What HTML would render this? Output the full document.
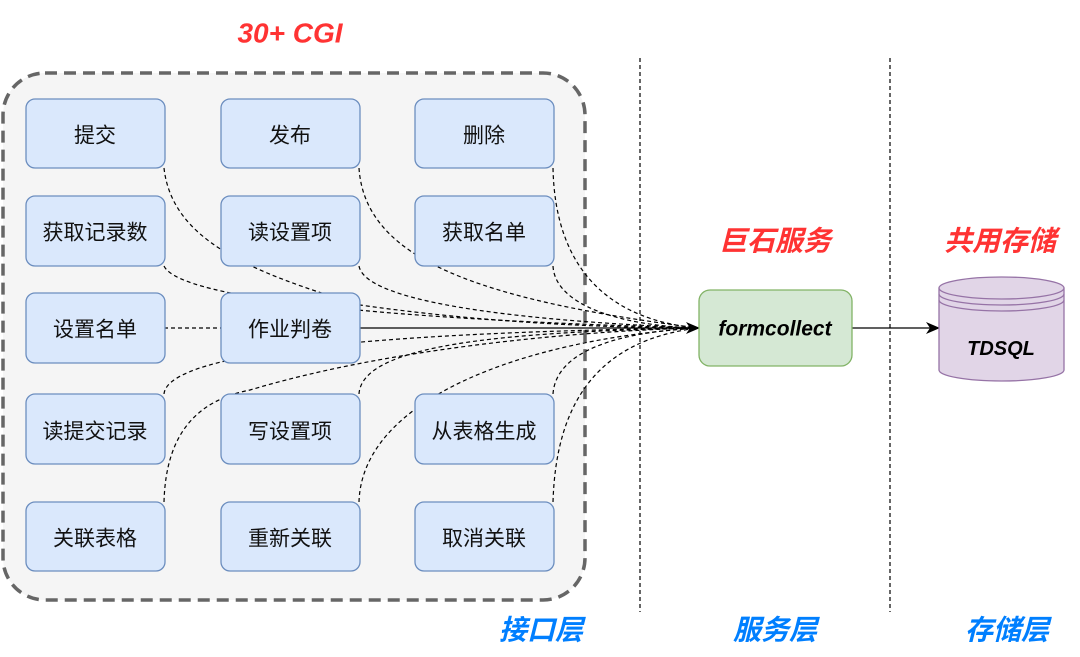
<!DOCTYPE html>
<html><head><meta charset="utf-8"><style>
html,body{margin:0;padding:0;background:#fff;}
svg{display:block;}
.b{fill:#dae8fc;stroke:#6c8ebf;stroke-width:1.3;}
.t{font-family:"Liberation Sans","Noto Sans CJK SC",sans-serif;font-size:21px;fill:#111;text-anchor:middle;dominant-baseline:central;}
.c{fill:none;stroke:#000;stroke-width:1.2;stroke-dasharray:4 3;}
.h{font-family:"Liberation Sans","Noto Sans CJK SC",sans-serif;font-weight:bold;font-style:italic;font-size:28px;text-anchor:middle;dominant-baseline:central;}
</style></head><body>
<svg width="1080" height="657" viewBox="0 0 1080 657">
<defs><marker id="a" markerWidth="14" markerHeight="12" refX="13" refY="6" orient="auto" markerUnits="userSpaceOnUse"><path d="M0,0 L14,6 L0,12 L4,6 Z" fill="#000"/></marker></defs>
<rect x="3" y="73" width="582" height="527" rx="42" fill="#f5f5f5" stroke="#666" stroke-width="3.5" stroke-dasharray="12 7"/>
<line x1="640" y1="58" x2="640" y2="612" stroke="#000" stroke-width="1.2" stroke-dasharray="4 3"/>
<line x1="890" y1="58" x2="890" y2="612" stroke="#000" stroke-width="1.2" stroke-dasharray="4 3"/>
<g class="c">
<path d="M164,168 C172,240 250,272 360,305 C480,322 600,328 698,328"/>
<path d="M164,266 C180,300 400,320 698,328"/>
<path d="M359,168 C365,260 480,300 698,328"/>
<path d="M359,266 C365,300 500,320 698,328"/>
<path d="M553,168 C555,270 610,320 698,328"/>
<path d="M553,266 C555,305 620,326 698,328"/>
<path d="M164,328 L221,328"/>
<path d="M164,394 C168,350 400,332 698,328"/>
<path d="M164,502 C166,430 200,400 250,390 C400,345 600,330 698,328"/>
<path d="M359,394 C362,345 500,332 698,328"/>
<path d="M359,502 C362,400 520,340 698,328"/>
<path d="M553,394 C556,350 620,332 698,328"/>
<path d="M553,502 C556,400 600,340 698,328"/>
</g>
<line x1="359" y1="328" x2="699" y2="328" stroke="#000" stroke-width="1.3" marker-end="url(#a)"/>
<line x1="852" y1="328" x2="939" y2="328" stroke="#000" stroke-width="1.3" marker-end="url(#a)"/>
<g>
<rect class="b" x="26" y="99" width="139" height="69" rx="9"/><text class="t" x="95" y="136">提交</text>
<rect class="b" x="221" y="99" width="139" height="69" rx="9"/><text class="t" x="290" y="136">发布</text>
<rect class="b" x="415" y="99" width="139" height="69" rx="9"/><text class="t" x="484" y="136">删除</text>
<rect class="b" x="26" y="196" width="139" height="70" rx="9"/><text class="t" x="95" y="233">获取记录数</text>
<rect class="b" x="221" y="196" width="139" height="70" rx="9"/><text class="t" x="290" y="233">读设置项</text>
<rect class="b" x="415" y="196" width="139" height="70" rx="9"/><text class="t" x="484" y="233">获取名单</text>
<rect class="b" x="26" y="293" width="139" height="70" rx="9"/><text class="t" x="95" y="330">设置名单</text>
<rect class="b" x="221" y="293" width="139" height="70" rx="9"/><text class="t" x="290" y="330">作业判卷</text>
<rect class="b" x="26" y="394" width="139" height="70" rx="9"/><text class="t" x="95" y="432">读提交记录</text>
<rect class="b" x="221" y="394" width="139" height="70" rx="9"/><text class="t" x="290" y="432">写设置项</text>
<rect class="b" x="415" y="394" width="139" height="70" rx="9"/><text class="t" x="484" y="432">从表格生成</text>
<rect class="b" x="26" y="502" width="139" height="69" rx="9"/><text class="t" x="95" y="539">关联表格</text>
<rect class="b" x="221" y="502" width="139" height="69" rx="9"/><text class="t" x="290" y="539">重新关联</text>
<rect class="b" x="415" y="502" width="139" height="69" rx="9"/><text class="t" x="484" y="539">取消关联</text>
</g>
<rect x="699" y="290" width="153" height="76" rx="11" fill="#d5e8d4" stroke="#82b366" stroke-width="1.3"/>
<text x="775" y="329" font-family="Liberation Sans,sans-serif" font-style="italic" font-weight="bold" font-size="21" text-anchor="middle" dominant-baseline="central">formcollect</text>
<path d="M939,288 L939,370 A62.5,11 0 0 0 1064,370 L1064,288" fill="#e1d5e7" stroke="#9673a6" stroke-width="1.3"/>
<ellipse cx="1001.5" cy="288" rx="62.5" ry="11" fill="#e1d5e7" stroke="#9673a6" stroke-width="1.3"/>
<path d="M939,294 A62.5,11 0 0 0 1064,294 M939,300 A62.5,11 0 0 0 1064,300" fill="none" stroke="#9673a6" stroke-width="1.3"/>
<text x="1001" y="349" font-family="Liberation Sans,sans-serif" font-style="italic" font-weight="bold" font-size="20" text-anchor="middle" dominant-baseline="central">TDSQL</text>
<text class="h" x="290" y="33" fill="#ff3333">30+ CGI</text>
<text class="h" x="775" y="241" fill="#ff3333">巨石服务</text>
<text class="h" x="1000" y="241" fill="#ff3333">共用存储</text>
<text class="h" x="541" y="630" fill="#007fff">接口层</text>
<text class="h" x="775" y="630" fill="#007fff">服务层</text>
<text class="h" x="1007" y="630" fill="#007fff">存储层</text>
</svg>
</body></html>
